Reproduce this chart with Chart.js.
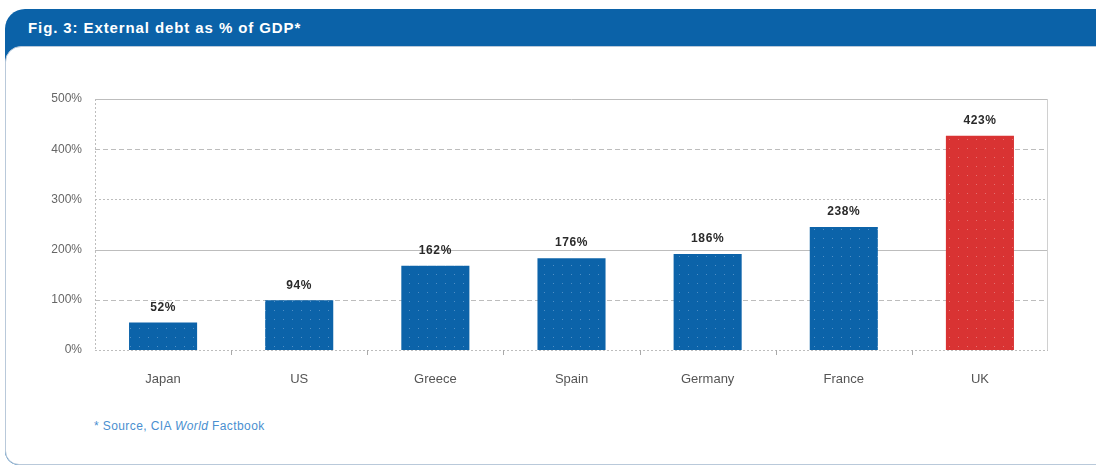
<!DOCTYPE html>
<html>
<head>
<meta charset="utf-8">
<script src="https://cdn.jsdelivr.net/npm/chart.js@4/dist/chart.umd.min.js"></script>
<style>
  html, body { margin: 0; padding: 0; background: #fff; width: 1096px; height: 468px; overflow: hidden; font-family: "Liberation Sans", Arial, sans-serif; }
  #frame { position: absolute; left: 5px; top: 9px; width: 1110px; height: 456px; background: #0b62a8; border-radius: 20px 0 0 14px; }
  #title { position: absolute; left: 23px; top: 10px; color: #fff; font-weight: bold; font-size: 15px; letter-spacing: 0.9px; }
  #panel { position: absolute; left: 0; top: 37px; width: 1108px; height: 417px; background: #fff; border: 1px solid #b9c9da; border-radius: 16px 0 0 14px; }
  #note { position: absolute; left: 94px; top: 419px; color: #4a8fd0; font-size: 12px; letter-spacing: 0.4px; }
  #wrap { position: absolute; left: 0; top: 0; width: 1096px; height: 468px; }
</style>
</head>
<body>
<div id="frame">
  <div id="title">Fig. 3: External debt as % of GDP*</div>
  <div id="panel"></div>
</div>
<div id="note">* Source, CIA <i>World</i> Factbook</div>
<div id="wrap"><canvas id="myChart" width="1096" height="468"></canvas></div>
<script>
// categories and values
var countries = ['Japan', 'US', 'Greece', 'Spain', 'Germany', 'France', 'UK'];
var barValues = [55, 99, 168, 183, 191, 245, 427];      // bar heights as drawn
var labelTexts = ['52%', '94%', '162%', '176%', '186%', '238%', '423%']; // printed labels
var yTicks = [0, 100, 200, 300, 400, 500];
var gridStyles = { 0: [2, 2], 100: [5, 3], 200: [], 300: [2, 2], 400: [5, 3], 500: [] };

function dotted(base, dot) {
  var c = document.createElement('canvas');
  c.width = 9; c.height = 9;
  var g = c.getContext('2d');
  g.fillStyle = base; g.fillRect(0, 0, 9, 9);
  g.fillStyle = dot; g.fillRect(4, 4, 1, 1);
  return g.createPattern(c, 'repeat');
}
var blueFill = dotted('#0c63a9', '#4f8fc6');
var redFill = dotted('#d93333', '#e67070');

var gridPlugin = {
  id: 'gridPlugin',
  beforeDatasetsDraw: function (chart) {
    var ctx = chart.ctx, a = chart.chartArea, y = chart.scales.y;
    ctx.save();
    ctx.lineWidth = 1;
    yTicks.forEach(function (v) {
      var py = Math.round(y.getPixelForValue(v)) + 0.5;
      ctx.strokeStyle = '#bdbdbd';
      ctx.setLineDash(gridStyles[v]);
      ctx.beginPath(); ctx.moveTo(a.left, py); ctx.lineTo(a.right, py); ctx.stroke();
    });
    ctx.setLineDash([2, 2]);
    ctx.beginPath(); ctx.moveTo(a.left + 0.5, a.top); ctx.lineTo(a.left + 0.5, a.bottom); ctx.stroke();
    ctx.setLineDash([]);
    ctx.strokeStyle = '#d0d0d0';
    ctx.beginPath(); ctx.moveTo(a.right - 0.5, a.top); ctx.lineTo(a.right - 0.5, a.bottom); ctx.stroke();
    // small marks between categories
    var step = (a.right - a.left) / countries.length;
    ctx.strokeStyle = '#aaaaaa';
    for (var i = 1; i < countries.length; i++) {
      var px = Math.round(a.left + step * i) + 0.5;
      ctx.beginPath(); ctx.moveTo(px, a.bottom); ctx.lineTo(px, a.bottom + 5); ctx.stroke();
    }
    ctx.restore();
  },
  afterDatasetsDraw: function (chart) {
    var ctx = chart.ctx;
    ctx.save();
    ctx.font = 'bold 12px "Liberation Sans", Arial, sans-serif';
    ctx.letterSpacing = '0.6px';
    ctx.fillStyle = '#2a2a2a';
    ctx.textAlign = 'center';
    ctx.textBaseline = 'middle';
    chart.getDatasetMeta(0).data.forEach(function (bar, i) {
      ctx.fillText(labelTexts[i], bar.x, bar.y - 15);
    });
    ctx.restore();
  }
};

var ctx = document.getElementById('myChart').getContext('2d');
var myChart = new Chart(ctx, {
  type: 'bar',
  plugins: [gridPlugin],
  data: {
    labels: countries,
    datasets: [{
      data: barValues,
      backgroundColor: countries.map(function (c) { return c === 'UK' ? redFill : blueFill; }),
      barPercentage: 0.5,
      categoryPercentage: 1
    }]
  },
  options: {
    responsive: false,
    animation: false,
    layout: { padding: { left: 0, right: 48, top: 99, bottom: 78 } },
    plugins: { legend: { display: false }, tooltip: { enabled: false } },
    scales: {
      x: {
        grid: { display: false, drawTicks: false },
        border: { display: false },
        ticks: { padding: 22, color: '#555', font: { family: '"Liberation Sans", Arial, sans-serif', size: 13 } },
        afterFit: function (s) { s.height = 40; }
      },
      y: {
        min: 0, max: 500,
        grid: { display: false, drawTicks: false },
        border: { display: false },
        ticks: {
          stepSize: 100, padding: 13, color: '#666',
          font: { family: '"Liberation Sans", Arial, sans-serif', size: 12 },
          callback: function (v) { return v + '%'; }
        },
        afterFit: function (s) { s.width = 95; }
      }
    }
  }
});
</script>
</body>
</html>
